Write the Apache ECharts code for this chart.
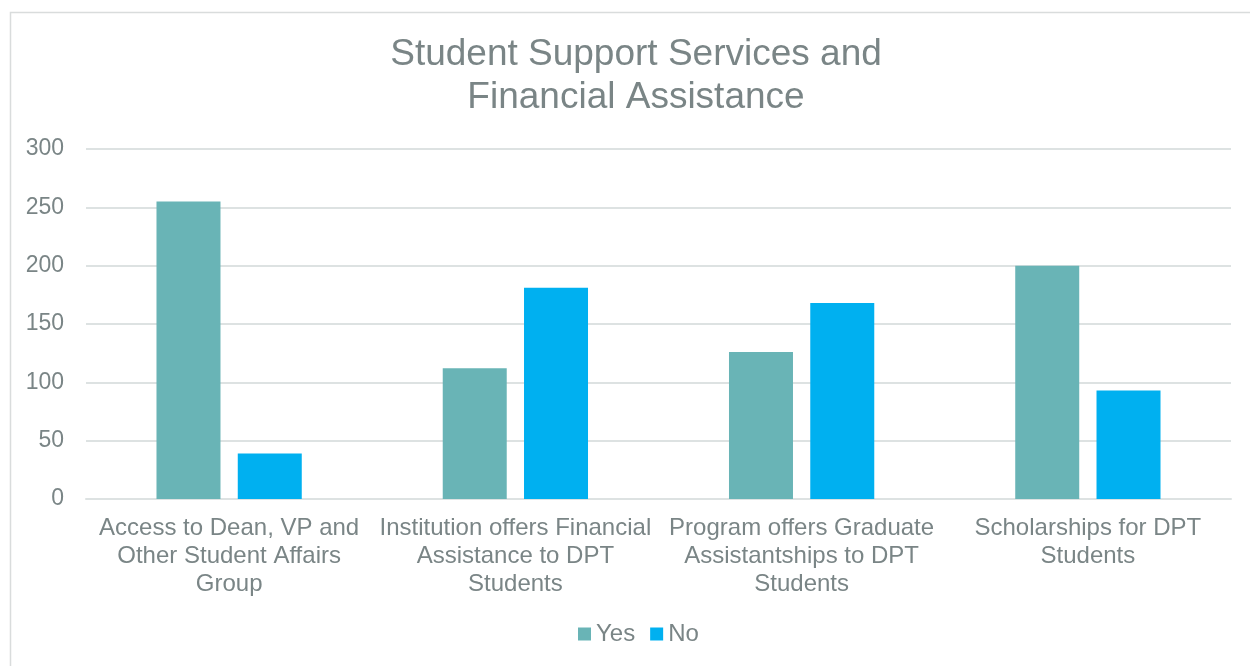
<!DOCTYPE html>
<html>
<head>
<meta charset="utf-8">
<script src="https://cdn.jsdelivr.net/npm/echarts@6/dist/echarts.min.js"></script>
<style>html,body{margin:0;padding:0;background:#fff}#c{width:1250px;height:666px}</style>
</head>
<body>
<div id="c"></div>
<script>
const categories = [
  "Access to Dean, VP and\nOther Student Affairs\nGroup",
  "Institution offers Financial\nAssistance to DPT\nStudents",
  "Program offers Graduate\nAssistantships to DPT\nStudents",
  "Scholarships for DPT\nStudents"
];
const yesValues = [255, 112, 126, 200];
const noValues = [39, 181, 168, 93];
const seriesNames = ["Yes", "No"];

const chart = echarts.init(document.getElementById('c'), null, {renderer: 'canvas'});
const grey = '#7a8586';
const font = 'Liberation Sans, Arial, sans-serif';
chart.setOption({
  animation: false,
  backgroundColor: '#fff',
  graphic: [{
    type: 'rect', left: 8, top: 10,
    shape: {width: 1300, height: 700},
    style: {fill: 'none', stroke: '#d9dcdc', lineWidth: 1.5},
    silent: true
  }],
  title: {
    text: 'Student Support Services and\nFinancial Assistance',
    left: 631, top: 28, textAlign: 'center',
    textStyle: {fontFamily: font, fontSize: 37, fontWeight: 'normal', color: grey, lineHeight: 43}
  },
  legend: {
    data: seriesNames, bottom: 15, left: 573,
    itemWidth: 13, itemHeight: 13, itemGap: 15,
    icon: 'rect',
    textStyle: {fontFamily: font, fontSize: 24, color: grey}
  },
  grid: {left: 86, right: 19, top: 149, bottom: 167},
  xAxis: {
    type: 'category', data: categories,
    axisLine: {show: true, lineStyle: {color: '#dde2e2', width: 2}},
    axisTick: {show: false},
    axisLabel: {fontFamily: font, fontSize: 24, color: grey, lineHeight: 28, margin: 15, interval: 0}
  },
  yAxis: {
    type: 'value', min: 0, max: 300, interval: 50,
    axisLine: {show: false}, axisTick: {show: false},
    splitLine: {lineStyle: {color: '#dde2e2', width: 2}},
    axisLabel: {fontFamily: font, fontSize: 23, color: grey, margin: 22, padding: [7, 0, 0, 0]}
  },
  series: [
    {name: seriesNames[0], type: 'bar', data: yesValues, barWidth: 64, barGap: '27%',
     itemStyle: {color: '#69b4b6'}},
    {name: seriesNames[1], type: 'bar', data: noValues, barWidth: 64, barGap: '27%',
     itemStyle: {color: '#00b0f0'}}
  ]
});
</script>
</body>
</html>
